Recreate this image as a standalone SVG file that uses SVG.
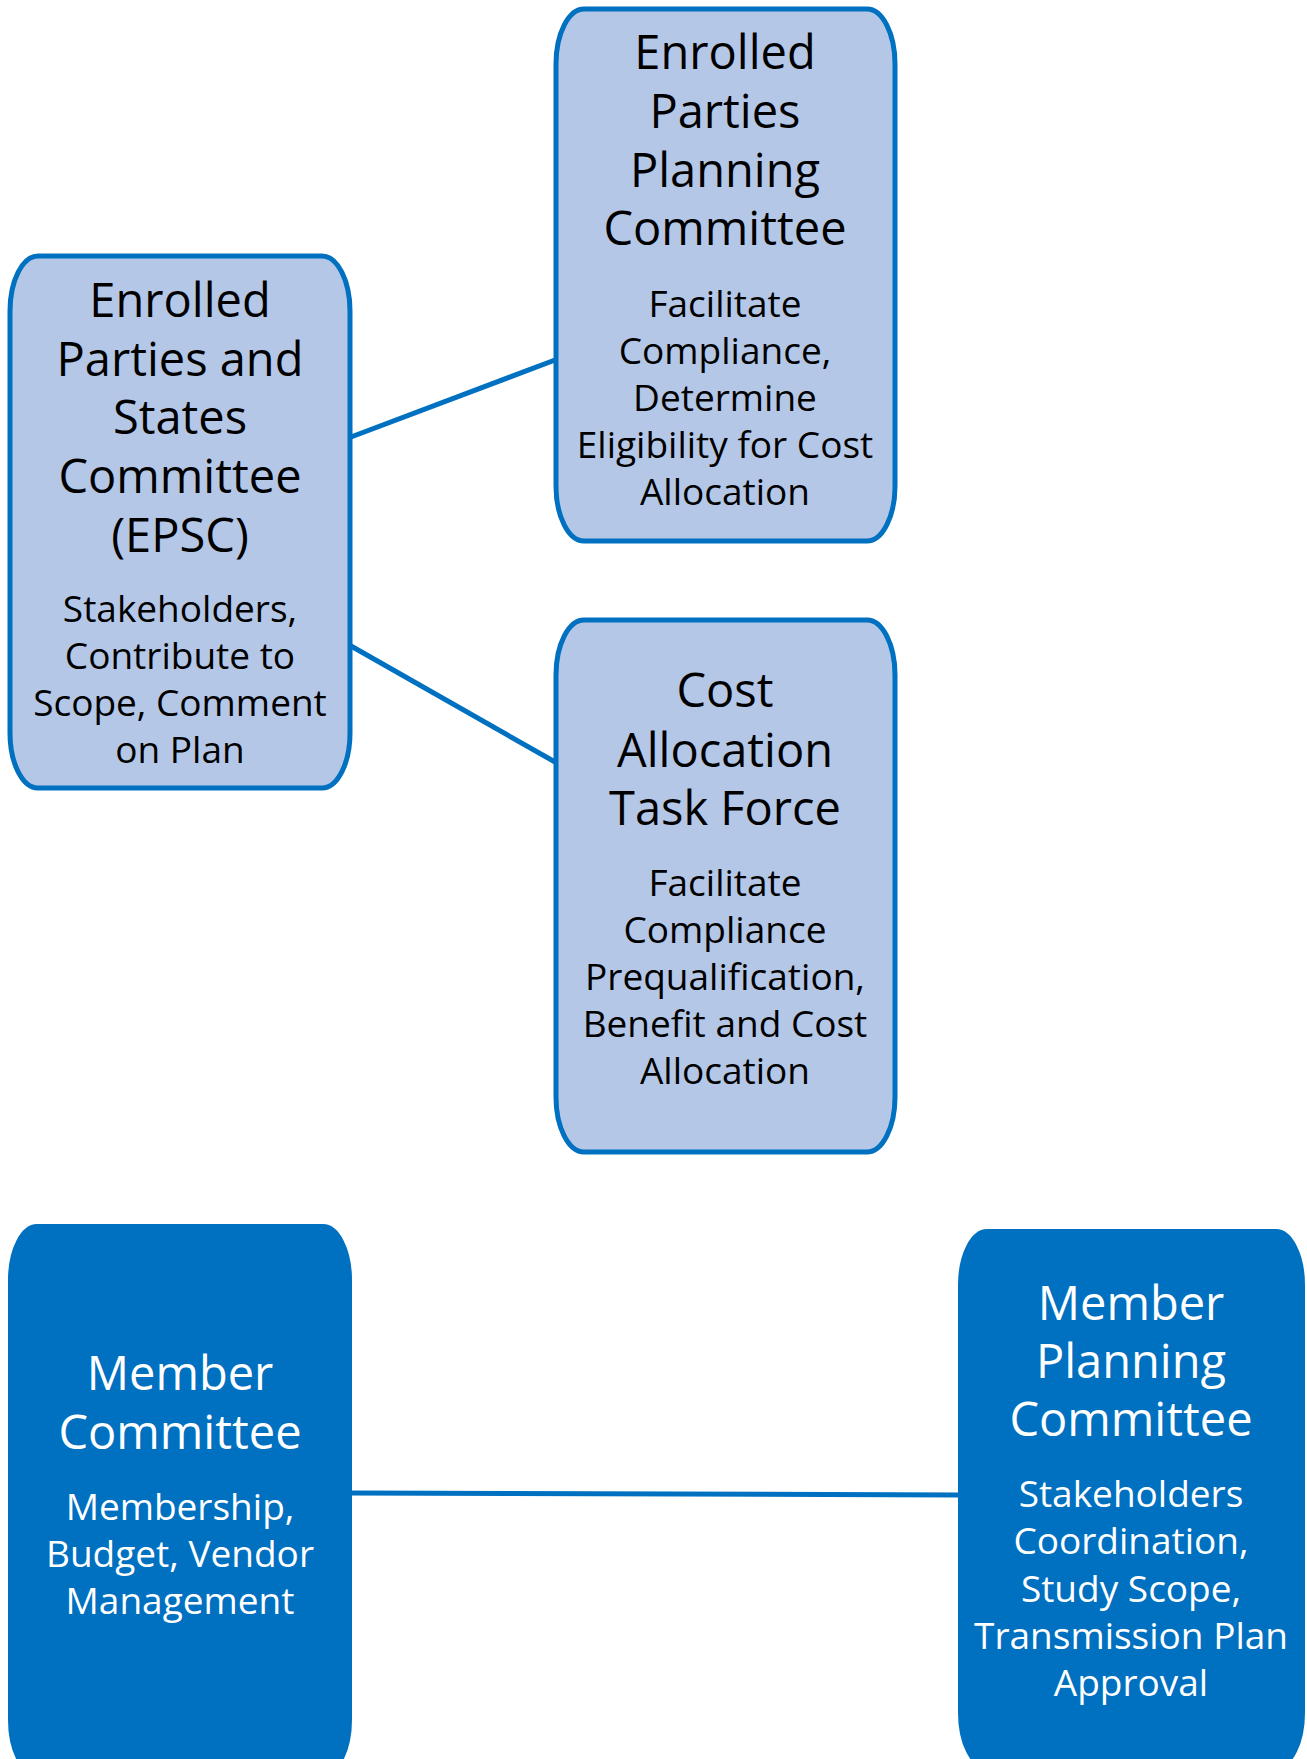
<svg xmlns="http://www.w3.org/2000/svg" width="1307" height="1759" viewBox="0 0 1307 1759">
<style>
.light{fill:#B4C7E7;stroke:#0070C0;stroke-width:5}
.dark{fill:#0070C0;stroke:#0070C0;stroke-width:2}
.t{font-family:"Open Sans","Noto Sans",sans-serif;text-anchor:middle;font-size:47px}
.s{font-family:"Open Sans","Noto Sans",sans-serif;text-anchor:middle;font-size:37px}
.k{fill:#000}
.w{fill:#fff}
.c{stroke:#0070C0;stroke-width:5;fill:none}
</style>
<rect width="1307" height="1759" fill="#fff"/>
<g id="connectors">
<line class="c" x1="351" y1="437" x2="555" y2="360"/>
<line class="c" x1="351" y1="646" x2="555" y2="762"/>
<line class="c" x1="351" y1="1493" x2="959" y2="1495"/>
</g>
<g id="epsc">
<rect class="light" x="10" y="256" width="340" height="532" rx="28" ry="55"/>
<text class="t k" x="180" y="317">Enrolled</text>
<text class="t k" x="180" y="376">Parties and</text>
<text class="t k" x="180" y="434">States</text>
<text class="t k" x="180" y="493">Committee</text>
<text class="t k" x="180" y="552">(EPSC)</text>
<text class="s k" x="180" y="622">Stakeholders,</text>
<text class="s k" x="180" y="669">Contribute to</text>
<text class="s k" x="180" y="716">Scope, Comment</text>
<text class="s k" x="180" y="763">on Plan</text>
</g>
<g id="eppc">
<rect class="light" x="556" y="9" width="339" height="532" rx="28" ry="55"/>
<text class="t k" x="725" y="69">Enrolled</text>
<text class="t k" x="725" y="128">Parties</text>
<text class="t k" x="725" y="187">Planning</text>
<text class="t k" x="725" y="245">Committee</text>
<text class="s k" x="725" y="317">Facilitate</text>
<text class="s k" x="725" y="364">Compliance,</text>
<text class="s k" x="725" y="411">Determine</text>
<text class="s k" x="725" y="458">Eligibility for Cost</text>
<text class="s k" x="725" y="505">Allocation</text>
</g>
<g id="catf">
<rect class="light" x="556" y="620" width="339" height="532" rx="28" ry="55"/>
<text class="t k" x="725" y="707">Cost</text>
<text class="t k" x="725" y="767">Allocation</text>
<text class="t k" x="725" y="825">Task Force</text>
<text class="s k" x="725" y="896">Facilitate</text>
<text class="s k" x="725" y="943">Compliance</text>
<text class="s k" x="725" y="990">Prequalification,</text>
<text class="s k" x="725" y="1037">Benefit and Cost</text>
<text class="s k" x="725" y="1084">Allocation</text>
</g>
<g id="member-committee">
<rect class="dark" x="9" y="1225" width="342" height="550" rx="28" ry="55"/>
<text class="t w" x="180" y="1390">Member</text>
<text class="t w" x="180" y="1449">Committee</text>
<text class="s w" x="180" y="1520">Membership,</text>
<text class="s w" x="180" y="1567">Budget, Vendor</text>
<text class="s w" x="180" y="1614">Management</text>
</g>
<g id="member-planning-committee">
<rect class="dark" x="959" y="1230" width="345" height="538" rx="28" ry="55"/>
<text class="t w" x="1131" y="1320">Member</text>
<text class="t w" x="1131" y="1378">Planning</text>
<text class="t w" x="1131" y="1436">Committee</text>
<text class="s w" x="1131" y="1507">Stakeholders</text>
<text class="s w" x="1131" y="1554">Coordination,</text>
<text class="s w" x="1131" y="1602">Study Scope,</text>
<text class="s w" x="1131" y="1649">Transmission Plan</text>
<text class="s w" x="1131" y="1696">Approval</text>
</g>
</svg>
